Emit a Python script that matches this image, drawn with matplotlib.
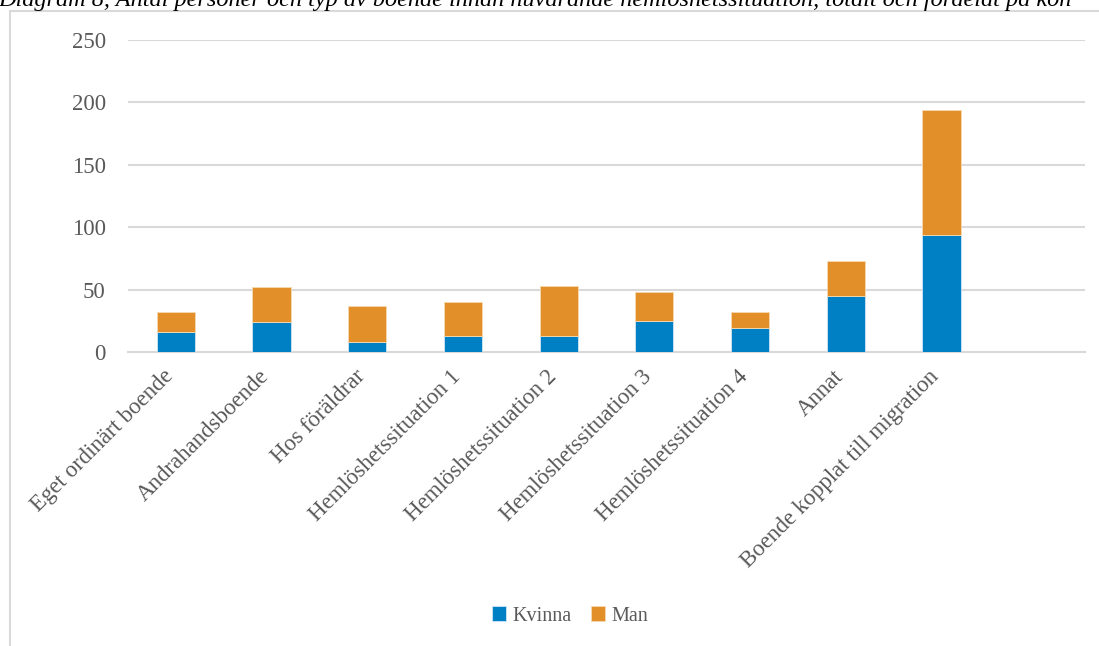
import numpy as np
import matplotlib.pyplot as plt
import matplotlib.transforms as mtransforms
from matplotlib.patches import Rectangle

# data
categories = ['Eget ordinärt boende', 'Andrahandsboende', 'Hos föräldrar',
              'Hemlöshetssituation 1', 'Hemlöshetssituation 2', 'Hemlöshetssituation 3',
              'Hemlöshetssituation 4', 'Annat', 'Boende kopplat till migration', '']
kvinna = [16, 24, 8, 13, 13, 25, 19, 45, 94, 0]
man = [16, 28, 29, 27, 40, 23, 13, 28, 100, 0]
yticks = [0, 50, 100, 150, 200, 250]

title = ('Diagram 8, Antal personer och typ av boende innan nuvarande '
         'hemlöshetssituation, totalt och fördelat på kön')

blue = '#0080C4'
orange = '#E28F29'
grey_text = '#595959'
grid_col = '#D9D9D9'
font = 'Liberation Serif'

W, H = 1099, 646
fig = plt.figure(figsize=(W / 100, H / 100), dpi=100)

# chart frame (cut off at right and bottom)
fig.patches.append(Rectangle((10 / W, -0.1), 1.2, 0.1 + 1 - 11 / H,
                             transform=fig.transFigure, fill=False,
                             edgecolor=grid_col, linewidth=1.5))

fig.text(-2 / W, 1 - 6 / H, title, fontsize=17.5, style='italic',
         family=font, color='black', ha='left', va='baseline')

ax = fig.add_axes([128 / W, 1 - 352 / H, (1085 - 128) / W, (352 - 40) / H])

x = np.arange(len(categories))
ax.bar(x, kvinna, width=0.4, color=blue, edgecolor='#CFE6F4', linewidth=0.6,
       label='Kvinna', zorder=3)
ax.bar(x, man, width=0.4, bottom=kvinna, color=orange, edgecolor='#F6D9B4',
       linewidth=0.6, label='Man', zorder=3)

ax.set_xlim(-0.5, len(categories) - 0.5)
ax.set_ylim(0, 250)
ax.set_yticks(yticks)
ax.yaxis.grid(True, color=grid_col, linewidth=1.5, zorder=0)
ax.set_axisbelow(True)
for s in ['top', 'right', 'left']:
    ax.spines[s].set_visible(False)
ax.spines['bottom'].set_color(grid_col)
ax.spines['bottom'].set_linewidth(1.5)
ax.tick_params(axis='both', length=0, colors=grey_text)
ax.tick_params(axis='y', pad=16)
ax.set_yticklabels([str(v) for v in yticks], family=font, fontsize=16.5, color=grey_text)

ax.set_xticks(x)
ax.set_xticklabels(categories, rotation=45, ha='right', va='top',
                   rotation_mode='anchor', family=font, fontsize=16.5, color=grey_text)
ax.tick_params(axis='x', pad=10)
shift = mtransforms.ScaledTranslation(-13 / 100, 0, fig.dpi_scale_trans)
for lbl in ax.get_xticklabels():
    lbl.set_transform(lbl.get_transform() + shift)

leg = fig.legend(loc='center', bbox_to_anchor=(570 / W, 1 - 616 / H), ncol=2,
                 frameon=False, handlelength=0.7, handleheight=0.7,
                 handletextpad=0.3, columnspacing=1.0,
                 prop={'family': font, 'size': 14.5})
for t in leg.get_texts():
    t.set_color(grey_text)

fig.savefig('out.png', dpi=100)
